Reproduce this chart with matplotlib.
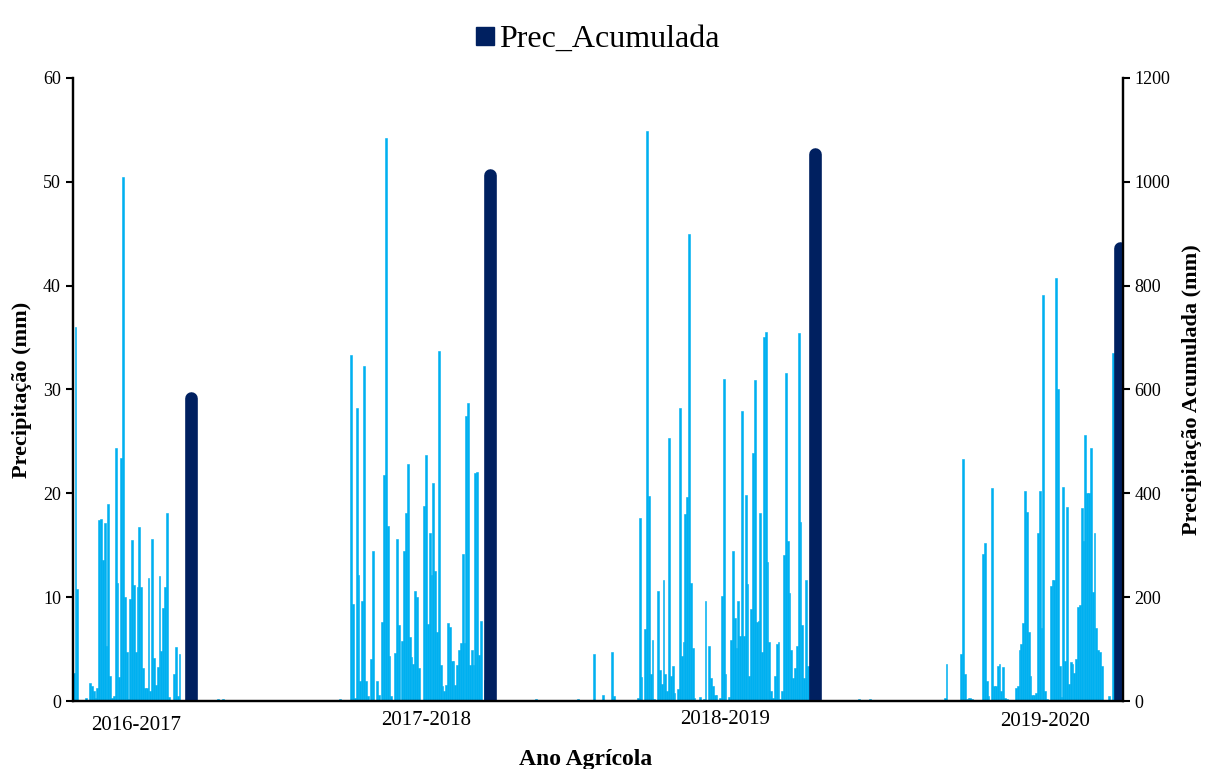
import matplotlib.pyplot as plt
import numpy as np
from matplotlib.lines import Line2D

plt.rcParams['font.family'] = 'Liberation Serif'

azul = '#00B0F0'
marinho = '#002060'
n_dias = 575

# Chuva diária (mm) de cada safra, a partir do seu dia de início
inicio_safras = [0, 152, 309, 477]
chuva_1617 = [2.7, 36.0, 10.8, 0, 0, 0, 0, 0.3, 0, 1.7, 1.4, 1.0, 0.3, 1.3,
              17.4, 17.5, 13.6, 17.1, 5.3, 19.0, 2.4, 0.3, 0.5, 24.4, 11.4, 2.3,
              23.4, 50.5, 10.0, 4.7, 0.2, 9.8, 15.5, 11.2, 4.7, 11.0, 16.8, 11.0,
              3.2, 1.3, 1.3, 11.8, 1.0, 15.6, 4.1, 1.5, 3.3, 12.0, 4.8, 9.0, 11.0,
              18.1, 0.4, 0, 0, 2.6, 5.2, 0.5, 4.5]
chuva_1718 = [33.3, 9.3, 0.3, 28.2, 12.1, 1.9, 9.6, 32.3, 1.9, 0.5,
              0, 4.0, 14.4, 0, 1.9, 0.6, 0, 7.6, 21.8, 54.2,
              16.9, 4.3, 0.5, 0, 4.6, 15.6, 7.3, 0, 5.8, 14.4,
              18.1, 22.8, 6.2, 4.2, 3.6, 10.6, 10.0, 3.2, 0, 0,
              18.8, 23.7, 7.4, 16.2, 12.1, 21.0, 12.5, 6.6, 33.7, 3.5,
              1.4, 1.0, 1.5, 7.5, 7.1, 3.9, 3.9, 1.5, 3.5, 4.9,
              5.6, 14.2, 5.6, 27.4, 28.7, 3.5, 4.9, 3.5, 22.0, 22.1,
              4.4, 7.7, 0, 2.0]
chuva_1819 = [0.3, 17.6, 2.3, 0, 6.9, 54.9, 19.7, 2.6, 5.9, 0.2,
              0, 10.6, 3.0, 1.6, 11.7, 2.6, 1.0, 25.3, 2.4, 3.4,
              0.8, 0, 1.2, 28.2, 4.3, 5.7, 18.0, 19.6, 45.0, 11.4,
              5.1, 0.3, 0, 0, 0.4, 0, 0.2, 9.6, 0, 5.3,
              2.2, 1.4, 0.6, 0.6, 0, 0.3, 10.1, 31.0, 2.6, 0,
              0.4, 5.9, 14.4, 8.0, 5.1, 9.6, 6.3, 27.9, 6.3, 19.8,
              11.3, 2.4, 8.9, 23.9, 30.9, 7.6, 7.7, 18.1, 4.7, 35.1,
              35.5, 13.4, 5.7, 1.0, 0.3, 2.4, 5.5, 5.7, 0.2, 1.0,
              14.1, 31.6, 15.4, 10.4, 4.9, 2.2, 3.2, 5.3, 35.4, 17.2,
              7.3, 2.2, 11.7, 3.4]
chuva_1920 = [0.3, 3.6, 0, 0, 0, 0, 0, 0, 0,
              4.5, 23.3, 2.6, 0.2, 0.3, 0.3, 0.2, 0, 0, 0, 0, 0,
              14.2, 15.2, 1.9, 0.5, 0, 20.5, 1.4, 1.4, 3.4, 3.6, 1.0, 3.3, 0.3, 0.2,
              0, 0, 0, 0,
              1.3, 1.4, 4.9, 5.5, 7.5, 20.2, 18.2, 6.6, 2.4, 0.6, 0.6, 0.8,
              16.2, 20.2, 7.0, 39.1, 1.0, 0.2, 0, 11.1, 11.7, 11.7, 40.7, 30.0, 3.4, 0.4,
              20.6, 3.9, 18.7, 1.6, 3.8, 3.6, 2.7, 4.0, 9.1, 9.2, 18.6, 15.4, 25.6,
              20.0, 20.0, 24.4, 10.5, 16.2, 7.0, 4.9, 4.7, 3.4,
              0, 0, 0, 0.5, 0, 33.5, 21.3]

# Chuvas isoladas fora do período das safras
dias_isolados = [79, 82, 146, 253, 276, 285, 290, 295, 296, 430, 436]
chuva_isolada = [0.2, 0.2, 0.2, 0.2, 0.2, 4.5, 0.6, 4.7, 0.5, 0.2, 0.2]

# Precipitação acumulada ao fim de cada safra (mm)
dias_acumulada = [64, 228, 406, 573]
prec_acumulada = [595, 1025, 1065, 885]

safras = ['2016-2017', '2017-2018', '2018-2019', '2019-2020']
dias_rotulo = [34, 193, 357, 532]
desloc_rotulo = [17.3, 13.7, 13.0, 14.8]  # pontos abaixo do eixo

dias = np.arange(n_dias)
prec = np.zeros(n_dias)
for ini, chuva in zip(inicio_safras, [chuva_1617, chuva_1718, chuva_1819, chuva_1920]):
    prec[ini:ini + len(chuva)] = chuva
prec[dias_isolados] = chuva_isolada

# Figura
fig = plt.figure(figsize=(12.16, 7.69), dpi=100)
ax = fig.add_axes([0.0598, 0.0884, 0.8635, 0.8102])
ax.bar(dias, prec, width=1.0, color=azul, edgecolor=azul, linewidth=0.4)
ax.set_xlim(-0.5, n_dias - 0.5)
ax.set_ylim(0, 60)
ax.set_yticks(range(0, 61, 10))

ax2 = ax.twinx()
ax2.set_ylim(0, 1200)
ax2.set_yticks(range(0, 1201, 200))

# barras acumuladas com topo arredondado
lw = 9.1
alt_px = ax.get_position().height * fig.get_figheight() * fig.dpi
raio = (lw / 2) / 72 * fig.dpi * 1200 / alt_px
ax2.vlines(dias_acumulada, 0, np.array(prec_acumulada) - raio,
           colors=marinho, linewidth=lw, capstyle='round')

for a in (ax, ax2):
    a.spines['top'].set_visible(False)
    for s in a.spines.values():
        s.set_linewidth(1.6)
ax.tick_params(axis='x', length=0, labelbottom=False)
ax.tick_params(axis='y', direction='out', length=5, width=1.5, labelsize=13)
ax2.tick_params(axis='y', direction='out', length=5, width=1.5, labelsize=13)

for rotulo, d, off in zip(safras, dias_rotulo, desloc_rotulo):
    ax.annotate(rotulo, xy=(d, 0), xycoords=ax.get_xaxis_transform(),
                xytext=(0, -off), textcoords='offset points',
                ha='center', va='center', fontsize=15)

ax.set_ylabel('Precipitação (mm)', fontsize=16, fontweight='bold', labelpad=8)
ax2.set_ylabel('Precipitação Acumulada (mm)', fontsize=16, fontweight='bold', labelpad=8)
fig.text(0.482, 0.012, 'Ano Agrícola', ha='center', va='center',
         fontsize=17, fontweight='bold')

marcador = Line2D([], [], marker='s', ls='none', color=marinho, markersize=12.5)
fig.legend([marcador], ['Prec_Acumulada'], loc='upper center',
           bbox_to_anchor=(0.4915, 1.005), frameon=False, fontsize=23,
           handlelength=0.6, handletextpad=0.15)

fig.savefig('out.png', dpi=100)
